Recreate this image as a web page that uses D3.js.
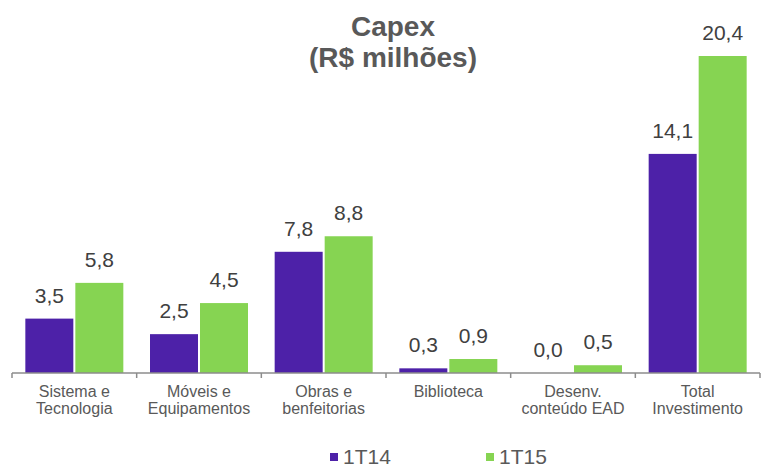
<!DOCTYPE html>
<html>
<head>
<meta charset="utf-8">
<script src="https://cdn.jsdelivr.net/npm/d3@7"></script>
<style>
  html, body { margin: 0; padding: 0; background: #ffffff; }
  svg { display: block; font-family: "Liberation Sans", Arial, Helvetica, sans-serif; }
</style>
</head>
<body>
<svg id="chart" width="766" height="467"></svg>
<script>
// Capex by investment line, R$ millions
const categories = [
  ["Sistema e", "Tecnologia"],
  ["Móveis e", "Equipamentos"],
  ["Obras e", "benfeitorias"],
  ["Biblioteca"],
  ["Desenv.", "conteúdo EAD"],
  ["Total", "Investimento"]
];
const seriesNames = ["1T14", "1T15"];
const values1T14 = [3.5, 2.5, 7.8, 0.3, 0.0, 14.1];
const values1T15 = [5.8, 4.5, 8.8, 0.9, 0.5, 20.4];
const seriesColors = ["#4d21a8", "#86d452"];
const titleLines = ["Capex", "(R$ milhões)"];

const seriesValues = [values1T14, values1T15];
const catKeys = categories.map(c => c.join(" "));
const fmt = v => d3.format(".1f")(v).replace(".", ",");

const svg = d3.select("#chart");

const x0 = d3.scaleBand().domain(catKeys).range([12, 760]).paddingInner(0).paddingOuter(0);
const x1 = d3.scaleBand().domain(seriesNames).range([0, x0.bandwidth()])
  .paddingInner(0.04).paddingOuter(0.2667);
const y = d3.scaleLinear().domain([0, 20.4]).range([373, 56]);

// Title
svg.append("text")
  .attr("x", 393).attr("y", 36)
  .attr("text-anchor", "middle")
  .attr("font-size", 28).attr("font-weight", "bold")
  .attr("fill", "#595959")
  .selectAll("tspan").data(titleLines).join("tspan")
  .attr("x", 393).attr("dy", (d, i) => i === 0 ? 0 : 31)
  .text(d => d);

// Bars
const groups = svg.append("g").selectAll("g").data(catKeys).join("g")
  .attr("transform", d => `translate(${x0(d)},0)`);

groups.each(function(cat, ci) {
  const g = d3.select(this);
  seriesNames.forEach((s, si) => {
    const v = seriesValues[si][ci];
    if (v > 0) {
      g.append("rect")
        .attr("x", x1(s)).attr("width", x1.bandwidth())
        .attr("y", y(v)).attr("height", y(0) - y(v))
        .attr("fill", seriesColors[si]);
    }
    g.append("text")
      .attr("x", x1(s) + x1.bandwidth() / 2)
      .attr("y", y(v) - 16)
      .attr("text-anchor", "middle")
      .attr("font-size", 21)
      .attr("fill", "#404040")
      .text(fmt(v));
  });
});

// Category axis
const axis = svg.append("g");
axis.append("line")
  .attr("x1", x0.range()[0]).attr("x2", x0.range()[1])
  .attr("y1", y(0)).attr("y2", y(0))
  .attr("stroke", "#8c8c8c").attr("stroke-width", 1.5);
const tickXs = catKeys.map(k => x0(k)).concat([x0.range()[1]]);
axis.selectAll("line.tick").data(tickXs).join("line")
  .attr("class", "tick")
  .attr("x1", d => d).attr("x2", d => d)
  .attr("y1", y(0)).attr("y2", y(0) + 5)
  .attr("stroke", "#8c8c8c").attr("stroke-width", 1.5);

axis.selectAll("text.cat").data(categories).join("text")
  .attr("class", "cat")
  .attr("text-anchor", "middle")
  .attr("font-size", 16)
  .attr("fill", "#595959")
  .attr("y", 397)
  .each(function(lines, i) {
    const cx = x0(catKeys[i]) + x0.bandwidth() / 2;
    d3.select(this).selectAll("tspan").data(lines).join("tspan")
      .attr("x", cx).attr("dy", (d, j) => j === 0 ? 0 : 17)
      .text(d => d);
  });

// Legend
const legendPos = [330, 486];
const legend = svg.append("g").selectAll("g").data(seriesNames).join("g")
  .attr("transform", (d, i) => `translate(${legendPos[i]},0)`);
legend.append("rect")
  .attr("x", 0).attr("y", 453).attr("width", 8).attr("height", 8)
  .attr("fill", (d, i) => seriesColors[i]);
legend.append("text")
  .attr("x", 13).attr("y", 464)
  .attr("font-size", 21).attr("fill", "#595959")
  .text(d => d);
</script>
</body>
</html>
